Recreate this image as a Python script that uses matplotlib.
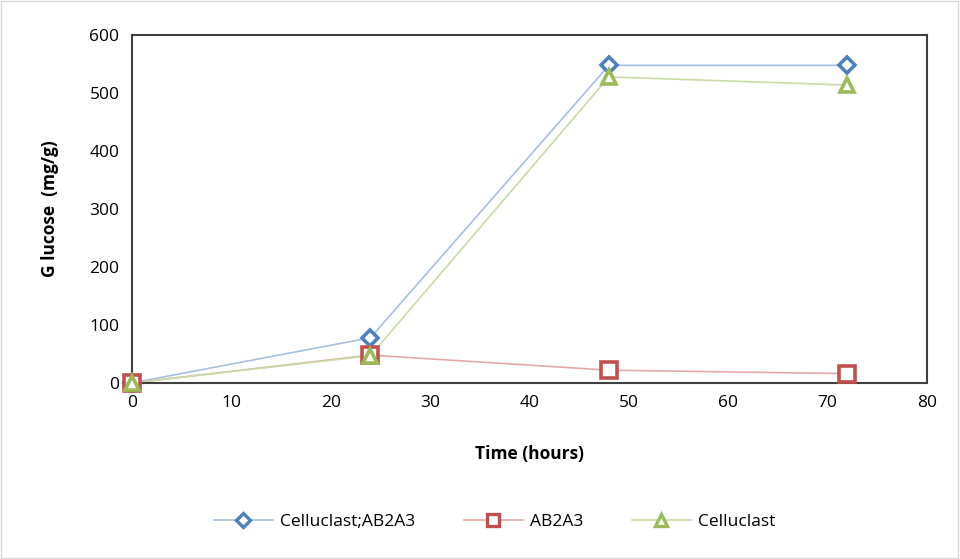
import matplotlib
matplotlib.use("Agg")
import matplotlib.pyplot as plt
from matplotlib.lines import Line2D

plt.rcParams['font.family'] = ['Open Sans', 'DejaVu Sans']

time = [0, 24, 48, 72]
cellu_ab = [0, 78, 548, 548]
ab2a3 = [0, 48, 22, 16]
cellu = [0, 47, 528, 514]

labels = ["Celluclast;AB2A3", "AB2A3", "Celluclast"]
mcolors = ["#4F81BD", "#C0504D", "#9BBB59"]
lcolors = ["#A7BFE0", "#E3A9A8", "#C9DBA6"]
markers = ["D", "s", "^"]
msizes = [8.5, 11, 10.5]

fig = plt.figure(figsize=(9.6, 5.59), dpi=100)
fig.patch.set_facecolor("white")
fig.patches.append(plt.Rectangle((0.001, 0.001), 0.997, 0.997, transform=fig.transFigure,
                                 fill=False, edgecolor="#D9D9D9", linewidth=1))
ax = fig.add_axes([0.1375, 0.315, 0.828, 0.622])

series = [cellu_ab, ab2a3, cellu]
handles = []
for vals, lab, mc, lc, mk, ms in zip(series, labels, mcolors, lcolors, markers, msizes):
    ax.plot(time, vals, color=lc, linewidth=1.2, zorder=2)
    ax.plot(time, vals, linestyle="none", marker=mk, markersize=ms, markerfacecolor="white",
            markeredgecolor=mc, markeredgewidth=2.6, zorder=3, clip_on=False)
    handles.append(Line2D([0], [0], color=lc, linewidth=1.2, marker=mk, markersize=ms * 0.85,
                          markerfacecolor="white", markeredgecolor=mc, markeredgewidth=2.4, label=lab))

ax.set_xlim(0, 80)
ax.set_ylim(0, 600)
ax.set_xticks(range(0, 81, 10))
ax.set_yticks(range(0, 601, 100))
ax.tick_params(axis="both", length=0, labelsize=12.5, pad=9)
for s in ax.spines.values():
    s.set_color("#404040")
    s.set_linewidth(1.5)

ax.set_xlabel("Time (hours)", fontsize=12.5, fontweight="bold", labelpad=24)
ax.set_ylabel("G lucose  (mg/g)", fontsize=12.5, fontweight="bold", labelpad=22)

fig.legend(handles=handles, loc="center", bbox_to_anchor=(0.515, 0.066), ncol=3, frameon=False,
           fontsize=12.5, handlelength=3.4, columnspacing=2.8, handletextpad=0.4)

fig.savefig("out.png", dpi=100)
